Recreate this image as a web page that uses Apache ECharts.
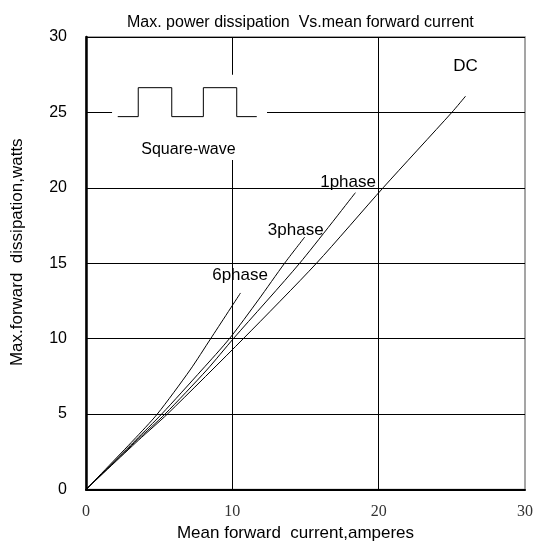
<!DOCTYPE html>
<html>
<head>
<meta charset="utf-8">
<script src="https://cdn.jsdelivr.net/npm/echarts@6/dist/echarts.min.js"></script>
<style>html,body{margin:0;padding:0;background:#fff;}#c{width:536px;height:547px;}</style>
</head>
<body>
<div id="c"></div>
<script>
// Curves: x = mean forward current (A), y = max forward dissipation (W)
const dcX = [0, 3.6, 5.56, 10.75, 15.75, 20.3, 25.0, 25.94];
const dcY = [0, 3.28, 5, 10, 15, 20, 25, 26.08];
const p1X = [0, 3.5, 5.40, 8.25, 10.07, 14.6, 18.41];
const p1Y = [0, 3.28, 5, 7.92, 10, 15, 19.68];
const p3X = [0, 3.4, 5.17, 7.91, 9.80, 11.78, 13.57, 14.95];
const p3Y = [0, 3.28, 5, 7.92, 10, 12.57, 15, 16.74];
const p6X = [0, 3.25, 4.87, 7.11, 8.52, 10.56];
const p6Y = [0, 3.28, 5, 7.92, 10, 13.03];

const seriesNames = ['DC', '1phase', '3phase', '6phase'];
const labelX = [25.94, 17.91, 14.33, 10.53];
const labelY = [28.04, 20.36, 17.21, 14.22];

const xTicks = [0, 10, 20, 30];
const yTicks = [0, 5, 10, 15, 20, 25, 30];

// Square-wave inset (in data units)
const sqX = [2.17, 3.57, 3.57, 5.86, 5.86, 8.02, 8.02, 10.30, 10.30, 11.67];
const sqY = [24.72, 24.72, 26.64, 26.64, 24.72, 24.72, 26.64, 26.64, 24.72, 24.72];
const insetBox = [1.78, 27.49, 12.37, 21.85];
const insetLabel = ['Square-wave', 7.0, 22.55];

const zip = (a, b) => a.map((v, i) => [v, b[i]]);
const curves = [zip(dcX, dcY), zip(p1X, p1Y), zip(p3X, p3Y), zip(p6X, p6Y)];

const chart = echarts.init(document.getElementById('c'));
const option = {
  animation: false,
  backgroundColor: '#fff',
  title: {
    text: 'Max. power dissipation  Vs.mean forward current',
    left: 122, top: 10,
    textStyle: { fontFamily: 'Liberation Sans', fontSize: 16, fontWeight: 'normal', color: '#000' }
  },
  grid: { left: 86, right: 11, top: 37, bottom: 57.5, show: true, borderColor: '#888', borderWidth: 1.5 },
  xAxis: {
    type: 'value', min: xTicks[0], max: xTicks[xTicks.length - 1], interval: 10,
    name: 'Mean forward  current,amperes', nameLocation: 'middle', nameGap: 34,
    nameTextStyle: { fontFamily: 'Liberation Sans', fontSize: 17, color: '#000', padding: [0, 20, 0, 0] },
    axisLine: { show: true, lineStyle: { color: '#000', width: 2 } },
    axisTick: { show: false },
    axisLabel: { margin: 14, fontFamily: 'Liberation Serif', fontSize: 16, color: '#333' },
    splitLine: { show: true, showMinLine: false, showMaxLine: false, lineStyle: { color: '#000', width: 1 } }
  },
  yAxis: {
    type: 'value', min: yTicks[0], max: yTicks[yTicks.length - 1], interval: 5,
    name: 'Max.forward  dissipation,watts', nameLocation: 'middle', nameGap: 60, nameRotate: 90,
    nameTextStyle: { fontFamily: 'Liberation Sans', fontSize: 17, color: '#000', padding: [0, 0, 0, 22] },
    axisLine: { show: true, lineStyle: { color: '#000', width: 2.5 } },
    axisTick: { show: false },
    axisLabel: { margin: 19, fontFamily: 'Liberation Sans', fontSize: 16, color: '#000' },
    splitLine: { show: true, showMinLine: false, lineStyle: { color: '#000', width: 1 } }
  },
  series: curves.map((d, i) => ({
    name: seriesNames[i], type: 'line', data: d, smooth: 0.25,
    showSymbol: false, symbol: 'none',
    lineStyle: { color: '#000', width: 1 }, z: 3,
    markPoint: {
      symbol: 'circle', symbolSize: 1, itemStyle: { color: 'rgba(0,0,0,0)' },
      label: { show: true, position: 'inside', formatter: '{b}', color: '#000', fontFamily: 'Liberation Sans', fontSize: 17 },
      data: [{ name: seriesNames[i], coord: [labelX[i], labelY[i]] }]
    }
  }))
};
chart.setOption(option);

const px = (x, y) => chart.convertToPixel({ gridIndex: 0 }, [x, y]);
const a = px(insetBox[0], insetBox[1]);
const b = px(insetBox[2], insetBox[3]);
const wavePts = sqX.map((x, i) => px(x, sqY[i]));
const lp = px(insetLabel[1], insetLabel[2]);
chart.setOption({
  graphic: [
    { type: 'rect', z: 5, shape: { x: a[0], y: a[1], width: b[0] - a[0], height: b[1] - a[1] }, style: { fill: '#fff' } },
    { type: 'polyline', z: 6, shape: { points: wavePts }, style: { stroke: '#000', lineWidth: 1, fill: null } },
    { type: 'text', z: 6, x: lp[0], y: lp[1], style: { text: insetLabel[0], fill: '#000', font: '16px "Liberation Sans"', textAlign: 'center', textVerticalAlign: 'middle' } }
  ]
});
</script>
</body>
</html>
